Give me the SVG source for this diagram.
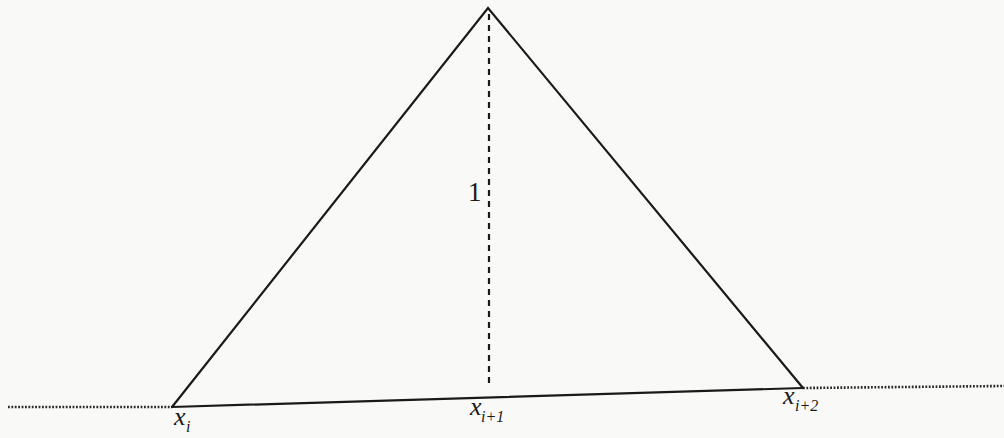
<svg xmlns="http://www.w3.org/2000/svg" width="1004" height="438" viewBox="0 0 1004 438">
<style>
.ln{stroke:#1a1a1a;stroke-width:2.2;fill:none;stroke-linecap:round}
.dot{stroke:#2a2a2a;stroke-width:2.6;stroke-dasharray:1.8 1.6;fill:none}
.dash{stroke:#1a1a1a;stroke-width:2.2;stroke-dasharray:6 5;fill:none}
.t{fill:#1a1a1a}
.v{font-style:italic;font-size:26px}
.s{font-style:italic;font-size:16px}
.n{font-size:27px}
</style>
<rect width="1004" height="438" fill="#f9f9f8"/>
<g id="connectors">
<line class="dot" x1="8" y1="407" x2="172" y2="407"/>
<line class="dot" x1="803" y1="388" x2="1004" y2="386"/>
<polyline class="ln" points="172,407 488,8 803,388"/>
<line class="ln" x1="172" y1="407" x2="803" y2="388"/>
<line class="dash" x1="489" y1="14" x2="489" y2="386"/>
</g>
<g font-family="Liberation Serif, Times New Roman, serif">
<g id="label-1"><text class="t n" x="468" y="201">1</text></g>
<g id="node-xi"><text class="t v" x="174" y="425">x</text><text class="t s" x="186" y="432">i</text></g>
<g id="node-xi1"><text class="t v" x="470" y="415">x</text><text class="t s" x="481" y="422">i+1</text></g>
<g id="node-xi2"><text class="t v" x="783" y="404">x</text><text class="t s" x="795" y="411">i+2</text></g>
</g>
</svg>
